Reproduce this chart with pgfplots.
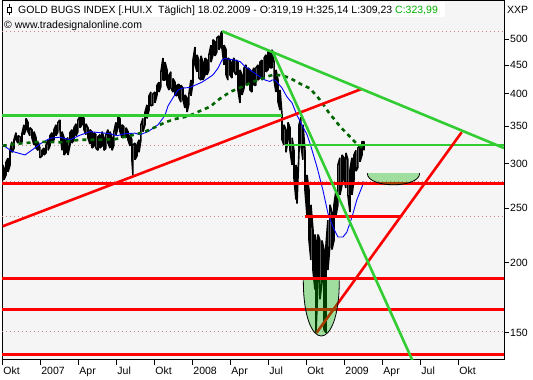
\documentclass[border=0pt]{standalone}
\usepackage{pgfplots}
\usepackage{pgfplotstable}
\pgfplotsset{compat=1.18}
\usepackage{fontspec}
\setmainfont{Liberation Sans}
\definecolor{bgc}{RGB}{245,245,245}
\definecolor{lgreen}{RGB}{50,205,50}
\definecolor{dgreen}{RGB}{0,100,0}
\definecolor{gridp}{RGB}{215,130,130}
\definecolor{cupg}{RGB}{0,180,0}
\definecolor{cgreen}{RGB}{0,176,0}

% price: high/low pairs, written as a zig-zag (month since Oct 2006, index value)
\pgfplotstableread{
m v
0.00 278.7
0.00 298.5
0.10 294.9
0.10 281
0.26 286.5
0.26 301.8
0.42 307.0
0.42 290.1
0.58 298.5
0.58 317
0.73 328.3
0.73 314.4
0.89 319.6
0.89 331
1.05 340.8
1.05 331
1.21 326.6
1.21 336.6
1.37 335.2
1.37 325.3
1.52 328.3
1.52 339.4
1.68 352
1.68 338
1.84 345
1.84 361.3
2.00 355.5
2.00 342.2
2.15 336.6
2.15 347.8
2.31 345
2.31 333.8
2.47 324
2.47 342.2
2.63 333.8
2.63 320
2.79 317
2.79 328.3
2.94 320
2.94 307.5
3.10 309.7
3.10 317
3.26 320
3.26 311
3.42 313.6
3.42 324
3.58 331
3.58 317
3.73 322.7
3.73 336.6
3.89 340.8
3.89 328.3
4.05 331
4.05 345
4.21 352
4.21 336.6
4.36 342.2
4.36 355.5
4.52 359
4.52 345
4.68 317
4.68 342.2
4.84 333.8
4.84 311
5.00 314.4
5.00 331
5.15 333.8
5.15 311
5.31 324
5.31 340.8
5.47 345
5.47 326.6
5.63 331
5.63 347.8
5.79 353.4
5.79 336.6
5.94 342.2
5.94 359
6.10 364.5
6.10 347.8
6.26 352
6.26 366
6.42 361.3
6.42 345
6.57 338
6.57 353.4
6.73 347.8
6.73 333.8
6.89 325.3
6.89 345
7.05 342.2
7.05 320
7.21 322.7
7.21 340.8
7.36 338
7.36 320
7.52 317
7.52 335.2
7.68 338
7.68 320
7.84 322.7
7.84 342.2
8.00 333.8
8.00 317
8.15 320
8.15 338
8.31 345
8.31 326.6
8.47 320
8.47 342.2
8.63 333.8
8.63 317
8.78 324
8.78 342.2
8.94 355.5
8.94 338
9.10 347.8
9.10 364.5
9.26 361.3
9.26 342.2
9.42 333.8
9.42 352
9.57 349.1
9.57 336.6
9.73 333.8
9.73 347.8
9.89 342.2
9.89 331
10.05 322.7
10.05 338
10.20 331
10.20 305
10.28 286.5
10.28 324
10.44 326.6
10.44 305
10.60 309.7
10.60 324
10.76 331
10.76 314.4
10.91 331
10.91 352
11.07 361.3
11.07 342.2
11.23 352
11.23 370.4
11.39 382
11.39 361.3
11.55 374
11.55 396.4
11.70 402.6
11.70 380.4
11.86 382
11.86 399.6
12.02 402.6
12.02 385.1
12.18 398
12.18 414
12.34 419.2
12.34 402.6
12.49 412.3
12.49 437.4
12.65 462.8
12.65 423
12.81 423
12.81 455.3
12.97 441
12.97 414
13.13 406
13.13 432
13.28 437.4
13.28 409.3
13.44 402.6
13.44 425.6
13.60 419.2
13.60 398
13.76 396.4
13.76 414
13.92 415.7
13.92 393.2
14.07 386.4
14.07 414
14.23 409.3
14.23 390
14.39 377.1
14.39 398
14.55 393.2
14.55 370.9
14.70 383.6
14.70 399.6
14.86 423
14.86 396.4
15.02 418.6
15.02 459
15.18 484.2
15.18 450
15.34 437.4
15.34 469
15.49 459
15.49 426.5
15.65 423
15.65 467
15.81 455.2
15.81 423
15.97 432
15.97 462.8
16.13 459
16.13 432
16.28 441
16.28 469
16.44 488
16.44 455.2
16.60 469
16.60 499
16.76 495
16.76 467
16.91 475.1
16.91 503.1
17.07 507
17.07 479
17.23 488
17.23 512.6
17.31 516.9
17.31 482.1
17.47 450
17.47 488
17.63 479
17.63 432
17.78 423
17.78 463
17.94 459
17.94 432
18.10 426.5
18.10 455.2
18.26 463
18.26 437.4
18.42 432
18.42 459
18.57 455.2
18.57 406
18.73 385.1
18.73 441
18.89 432
18.89 398
19.05 409.3
19.05 444.6
19.21 450
19.21 414
19.36 418.8
19.36 444.6
19.52 441
19.52 406
19.68 402.7
19.68 437.4
19.84 444.6
19.84 414
19.99 414
19.99 444.6
20.15 450
20.15 423
20.31 426.5
20.31 455.2
20.47 459
20.47 423
20.63 428.5
20.63 462.8
20.78 469
20.78 437.4
20.94 441
20.94 474.9
21.10 474.9
21.10 444.6
21.26 444.6
21.26 479
21.42 455.2
21.42 423
21.57 402.7
21.57 441
21.73 423
21.73 386.8
21.89 374
21.89 406
22.05 366
22.05 331
22.20 324
22.20 352
22.36 345
22.36 314.4
22.52 331
22.52 355.5
22.68 347.8
22.68 317
22.84 298.5
22.84 333.8
22.99 317
22.99 283.3
23.15 259
23.15 298.5
23.23 292.5
23.23 254.8
23.39 317
23.39 352
23.54 363
23.54 324
23.70 305
23.70 352
23.86 317
23.86 269
24.02 243
24.02 286.5
24.18 269
24.18 219
24.33 202
24.33 253.5
24.49 229
24.49 194
24.65 179
24.65 224.4
24.73 219
24.73 150
24.89 186
24.89 224.4
25.04 219
25.04 172
25.20 184
25.20 219
25.36 211
25.36 152
25.52 150
25.52 215
25.67 238
25.67 194
25.83 215
25.83 253.5
25.99 246
25.99 211
26.15 219
26.15 253.5
26.31 269
26.31 243
26.46 253.5
26.46 298.5
26.62 307.5
26.62 264
26.78 275
26.78 311
26.94 307.5
26.94 281
27.09 271.6
27.09 313.6
27.25 305
27.25 264
27.41 246
27.41 292.5
27.57 307.5
27.57 264
27.73 281
27.73 311
27.88 317
27.88 291
28.04 295.8
28.04 320
28.20 324
28.20 302.4
28.36 311
28.36 328.3
28.52 328.3
28.52 317
}\price

% fast moving average (blue)
\pgfplotstableread{
m v
0.00 324
0.73 315.7
1.76 311
2.39 318.3
2.94 325.3
3.73 333.1
4.52 334.5
5.31 331
6.10 337.3
6.89 342.2
7.68 340.8
8.47 339.4
9.02 336.6
9.65 339.4
10.44 340.1
10.84 338
11.47 342.2
12.26 352
12.81 366
13.05 380.4
13.44 393.2
13.84 406
14.23 409.3
14.78 410.2
15.18 414
15.73 419.2
16.20 425.9
16.60 432
16.99 443.8
17.31 459
17.55 461.8
18.34 459
18.73 456.2
19.12 447.2
19.52 441
19.91 434.7
20.31 428.5
20.70 423
21.10 420.4
21.26 423
21.49 423
21.73 417.4
22.05 409.3
22.44 394.7
22.84 385.1
23.23 366
23.62 352
24.02 338
24.25 326.6
24.81 296
25.28 269
25.67 245
26.07 231.3
26.46 222.1
26.86 222.1
27.17 226.7
27.57 241
27.96 259
28.36 272.8
28.52 279
}\mafast

% slow moving average (dark green, dashed)
\pgfplotstableread{
m v
0.00 323
1.37 326
2.94 328.3
4.52 327.6
6.10 331
7.68 331
8.86 331.7
9.65 335.2
10.44 338
11.23 342.2
12.02 348.5
12.81 355.5
13.60 360.4
14.63 364.5
15.57 372.5
16.36 379.1
17.15 391.9
17.94 402.6
18.73 410
19.76 419.9
20.70 427.6
21.33 432
22.05 431.1
22.68 426.3
23.70 414
24.25 408.8
25.04 390
25.44 378.9
25.83 367.5
26.23 359
26.62 349.6
27.02 342.2
27.41 335.2
27.96 325.3
28.44 320
}\maslow

\begin{document}
\fontsize{10.5bp}{12bp}\selectfont
\begin{tikzpicture}
\path[use as bounding box] (0,0) rectangle (533bp,380bp);
\fill[white] (0,0) rectangle (533bp,380bp);
\begin{axis}[
  at={(2bp,20bp)}, anchor=south west,
  scale only axis, width=502bp, height=359bp,
  ymode=log,
  xmin=-0.055, xmax=39.57, ymin=134.1, ymax=585,
  axis background/.style={fill=bgc},
  axis line style={black, line width=1bp},
  ytick={150,200,250,300,350,400,450,500},
  yticklabels={150,200,250,300,350,400,450,500},
  minor ytick={},
  ytick pos=right, yticklabel pos=right,
  xtick={0,3,6,9,12,15,18,21,24,27,30,33,36},
  xticklabels={Okt,2007,Apr,Jul,Okt,2008,Apr,Jul,Okt,2009,Apr,Jul,Okt},
  xtick pos=bottom,
  tick align=outside, major tick length=5bp,
  tick style={black, line width=0.8bp},
  /pgf/number format/assume math mode=true,
  tick label style={font=\fontsize{10.5bp}{12bp}\selectfont},
  xticklabel style={anchor=north west, inner sep=0pt, xshift=0.5bp, yshift=-2bp},
  yticklabel style={anchor=west, inner sep=0pt, xshift=1bp},
  clip=true,
]
% dotted level lines
\addplot[gridp, line width=0.8bp, dash pattern=on 1bp off 3bp] coordinates {(-1,517) (41,517)};
\addplot[gridp, line width=0.8bp, dash pattern=on 1bp off 3bp] coordinates {(-1,324) (41,324)};
\addplot[gridp, line width=0.8bp, dash pattern=on 1bp off 3bp] coordinates {(-1,279.5) (41,279.5)};
\addplot[gridp, line width=0.8bp, dash pattern=on 1bp off 3bp] coordinates {(-1,242.2) (41,242.2)};
\addplot[gridp, line width=0.8bp, dash pattern=on 1bp off 3bp] coordinates {(-1,151) (41,151)};
% price
\addplot[black, line width=1.6bp, line join=bevel, mark=none] table[x=m, y=v] {\price};
% moving averages
\addplot[blue, line width=0.9bp, mark=none] table[x=m, y=v] {\mafast};
\addplot[dgreen, line width=2.6bp, dash pattern=on 4bp off 4bp, mark=none] table[x=m, y=v] {\maslow};
% horizontal levels
\addplot[lgreen, line width=2.6bp] coordinates {(-1,365.4) (22.05,365.4)};
\addplot[lgreen, line width=2.6bp] coordinates {(22.28,324) (41,324)};
\addplot[red, line width=2.6bp] coordinates {(-1,276.5) (41,276.5)};
\addplot[red, line width=2.6bp] coordinates {(23.86,241.5) (31.36,241.5)};
\addplot[red, line width=2.6bp] coordinates {(-1,187.2) (41,187.2)};
\addplot[red, line width=2.6bp] coordinates {(-1,164.8) (41,164.8)};
\addplot[red, line width=2.6bp] coordinates {(-1,137.3) (41,137.3)};
% trend lines
\addplot[red, line width=2.6bp] coordinates {(0,232.1) (28.33,407.7)};
\addplot[red, line width=2.6bp] coordinates {(24.78,150) (36.23,341.4)};
\addplot[lgreen, line width=2.6bp] coordinates {(17.33,516.6) (39.56,320)};
\addplot[lgreen, line width=2.6bp] coordinates {(21.28,476.5) (32.6,130)};
% cups
\fill[cupg, opacity=0.35] (axis cs:23.73,186) .. controls (axis cs:23.73,137.1) and (axis cs:26.57,137.1) .. (axis cs:26.57,186) -- cycle;
\draw[black, line width=0.8bp] (axis cs:23.73,186) .. controls (axis cs:23.73,137.1) and (axis cs:26.57,137.1) .. (axis cs:26.57,186);
\fill[cupg, opacity=0.35] (axis cs:28.78,288.5) .. controls (axis cs:28.78,270.9) and (axis cs:32.91,270.9) .. (axis cs:32.91,288.5) -- cycle;
\draw[black, line width=0.8bp] (axis cs:28.78,288.5) .. controls (axis cs:28.78,270.9) and (axis cs:32.91,270.9) .. (axis cs:32.91,288.5);
\end{axis}
% header
\fill[white] (3bp,363bp) rectangle (445bp,378bp);
\draw[black, line width=0.8bp] (9bp,376bp) -- (9bp,365bp);
\draw[black, line width=0.8bp, fill=white] (7bp,368bp) rectangle (11bp,373bp);
\node[anchor=base west, inner sep=0pt] at (18bp,366bp) {GOLD BUGS INDEX [.HUI.X\ \ Täglich] 18.02.2009 - O:319,19 H:325,14 L:309,23 \textcolor{cgreen}{C:323,99}};
\node[anchor=base west, inner sep=0pt] at (4bp,351bp) {© www.tradesignalonline.com};
\node[anchor=base west, inner sep=0pt] at (507bp,366bp) {XXP};
\end{tikzpicture}
\end{document}
